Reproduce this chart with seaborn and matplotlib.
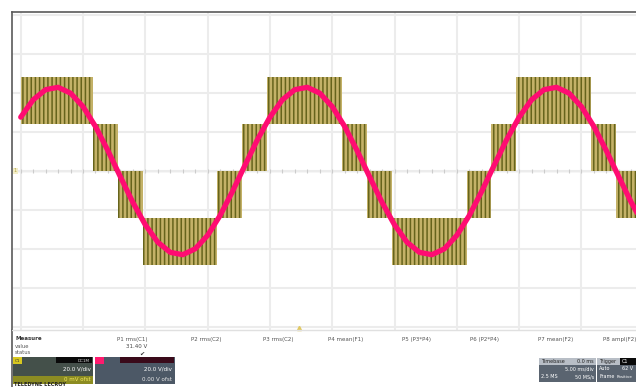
import numpy as np
import matplotlib
matplotlib.use("Agg")
import matplotlib.pyplot as plt
import seaborn as sns
import pandas as pd
from matplotlib.patches import Rectangle

# time base 5 ms/div, both channels 20 V/div
time_ms = list(range(0, 51))
filtered_v = [27.6, 36.5, 41.7, 42.9, 39.9, 33.0, 22.8, 10.4, -3.0, -16.1,
              -27.6, -36.5, -41.7, -42.9, -39.9, -33.0, -22.8, -10.4, 3.0, 16.1,
              27.6, 36.5, 41.7, 42.9, 39.9, 33.0, 22.8, 10.4, -3.0, -16.1,
              -27.6, -36.5, -41.7, -42.9, -39.9, -33.0, -22.8, -10.4, 3.0, 16.1,
              27.6, 36.5, 41.7, 42.9, 39.9, 33.0, 22.8, 10.4, -3.0, -16.1,
              -27.6]

# multilevel PWM output: switching bands between adjacent levels
band_start = [0.0, 5.78, 7.78, 9.78, 15.78, 17.78, 19.78, 25.78, 27.78, 29.78,
              35.78, 37.78, 39.78, 45.78, 47.78]
band_end = [5.78, 7.78, 9.78, 15.78, 17.78, 19.78, 25.78, 27.78, 29.78, 35.78,
            37.78, 39.78, 45.78, 47.78, 50.0]
band_low = [24, 0, -24, -48, -24, 0, 24, 0, -24, -48, -24, 0, 24, 0, -24]
band_high = [48, 24, 0, -24, 0, 24, 48, 24, 0, -24, 0, 24, 48, 24, 0]

measure_labels = ["P1 rms(C1)", "P2 rms(C2)", "P3 rms(C2)", "P4 mean(F1)",
                  "P5 (P3*P4)", "P6 (P2*P4)", "P7 mean(F2)", "P8 ampl(F2)"]
measure_values = ["31.40 V", "", "", "", "", "", "", ""]

W, H = 636, 387


def fx(x):
    return x / W


def fy(y):
    return 1 - y / H


def main():
    sns.set_style("white")
    plt.rcParams["font.family"] = ["DejaVu Sans"]
    plt.rcParams["hatch.linewidth"] = 1.1
    fig = plt.figure(figsize=(W / 100, H / 100), dpi=100)
    fig.patch.set_facecolor("white")
    ax = fig.add_axes([fx(12), fy(330), fx(624), 318 / H])

    ax.set_xlim(-0.7, 49.38)
    ax.set_ylim(-81.5, 81.5)
    ax.set_xticks(np.arange(0, 50, 5))
    ax.set_yticks(np.arange(-80, 81, 20))
    ax.grid(True, color="#ececec", lw=1.5)
    ax.set_axisbelow(True)
    ax.tick_params(length=0, labelbottom=False, labelleft=False)
    for side in ["right", "bottom"]:
        ax.spines[side].set_visible(False)
    ax.spines["top"].set_color("#5a5a5a")
    ax.spines["left"].set_color("#5a5a5a")
    ax.spines["top"].set_linewidth(1.2)
    ax.spines["left"].set_linewidth(1.2)

    # minor ticks on centre lines
    ax.plot(np.arange(0, 50, 1), np.zeros(50), ls="none", marker="|",
            ms=2.5, color="#cccccc", mew=0.8)
    ax.axhline(0, color="#dadada", lw=1.0, zorder=0)

    widths = [e - s for s, e in zip(band_start, band_end)]
    heights = [h - l for l, h in zip(band_low, band_high)]
    ax.bar(band_start, heights, width=widths, bottom=band_low, align="edge",
           color="#c4b268", edgecolor="#66641c", hatch="||||", linewidth=0,
           zorder=2)

    df = pd.DataFrame({"t": time_ms, "v": filtered_v})
    sns.lineplot(data=df, x="t", y="v", color="#ff0c72", lw=3.8, ax=ax,
                 zorder=3)
    ax.set_xlabel("")
    ax.set_ylabel("")

    # channel ground marker & trigger marker
    ax.text(-0.55, 0, "1", fontsize=3.5, color="#b0a040", va="center",
            bbox=dict(boxstyle="square,pad=0.15", fc="#f3eec8", ec="none"))
    ax.plot([22.3], [-80.5], marker="^", ms=3, color="#e0c860", clip_on=False)

    # bottom panel
    fig.add_artist(plt.Line2D([fx(12), fx(12)], [fy(330), 0], color="#5a5a5a",
                              lw=1.2))
    fig.add_artist(plt.Line2D([fx(12), 1], [fy(330), fy(330)], color="#e0e0e0",
                              lw=1.0))
    fig.text(fx(15), fy(339), "Measure", fontsize=4, weight="bold",
             va="center", color="#333333")
    fig.text(fx(15), fy(346), "value", fontsize=3.8, va="center",
             color="#555555")
    fig.text(fx(15), fy(352), "status", fontsize=3.8, va="center",
             color="#555555")
    col_x = [132, 206, 278, 346, 416, 484, 556, 620]
    for x, lab, val in zip(col_x, measure_labels, measure_values):
        fig.text(fx(x), fy(340), lab, fontsize=4, ha="center", va="center",
                 color="#555555")
        if val:
            fig.text(fx(x + 15), fy(347), val, fontsize=4, ha="right",
                     va="center", color="#444444")
            fig.text(fx(x + 10), fy(354), "\u2714", fontsize=4.5,
                     ha="center", va="center", color="#333333")

    def box(x0, y0, w, h, color):
        fig.add_artist(Rectangle((fx(x0), fy(y0 + h)), fx(w), h / H,
                                 facecolor=color, edgecolor="none",
                                 transform=fig.transFigure))

    # C1 descriptor
    box(13, 357, 80, 27, "#44504a")
    box(13, 376, 80, 8, "#8c8c22")
    box(13, 357, 9, 7, "#d8c820")
    box(56, 357, 36, 6, "#0a0a0a")
    fig.text(fx(15), fy(360.5), "C1", fontsize=3, va="center", color="#333")
    fig.text(fx(90), fy(360.5), "DC1M", fontsize=3, va="center", ha="right",
             color="#dddddd")
    fig.text(fx(91), fy(369), "20.0 V/div", fontsize=4, ha="right",
             va="center", color="white")
    fig.text(fx(91), fy(379.5), "0 mV ofst", fontsize=4, ha="right",
             va="center", color="#f0e860")
    # C2 descriptor
    box(95, 357, 80, 27, "#4c5866")
    box(95, 357, 9, 7, "#ff1a6e")
    box(120, 357, 54, 6, "#3a0a1a")
    fig.text(fx(172), fy(369), "20.0 V/div", fontsize=4, ha="right",
             va="center", color="white")
    fig.text(fx(172), fy(379.5), "0.00 V ofst", fontsize=4, ha="right",
             va="center", color="#e8e8e8")
    fig.text(fx(14), fy(385), "TELEDYNE LECROY", fontsize=3.6, weight="bold",
             va="center", color="#222222")

    # timebase / trigger
    box(539, 358, 57, 24, "#5a6470")
    box(539, 358, 57, 7, "#b8bec6")
    box(597, 358, 39, 24, "#5a6470")
    box(597, 358, 39, 7, "#b8bec6")
    box(620, 358, 16, 7, "#0a0a0a")
    fig.text(fx(541), fy(361.5), "Timebase", fontsize=3.5, va="center",
             color="#222")
    fig.text(fx(594), fy(361.5), "0.0 ms", fontsize=3.5, va="center",
             ha="right", color="#222")
    fig.text(fx(594), fy(369), "5.00 ms/div", fontsize=3.5, va="center",
             ha="right", color="white")
    fig.text(fx(541), fy(377), "2.5 MS", fontsize=3.5, va="center",
             color="white")
    fig.text(fx(594), fy(377), "50 MS/s", fontsize=3.5, va="center",
             ha="right", color="white")
    fig.text(fx(599), fy(361.5), "Trigger", fontsize=3.5, va="center",
             color="#222")
    fig.text(fx(622), fy(361.5), "C1", fontsize=3.5, va="center",
             color="white")
    fig.text(fx(599), fy(369), "Auto", fontsize=3.5, va="center",
             color="white")
    fig.text(fx(622), fy(369), "62 V", fontsize=3.5, va="center",
             color="white")
    fig.text(fx(599), fy(377), "Frame", fontsize=3.5, va="center",
             color="white")
    fig.text(fx(617), fy(377), "Positive", fontsize=3, va="center",
             color="white")

    fig.savefig("out.png", dpi=100)
    plt.close(fig)


if __name__ == "__main__":
    main()
